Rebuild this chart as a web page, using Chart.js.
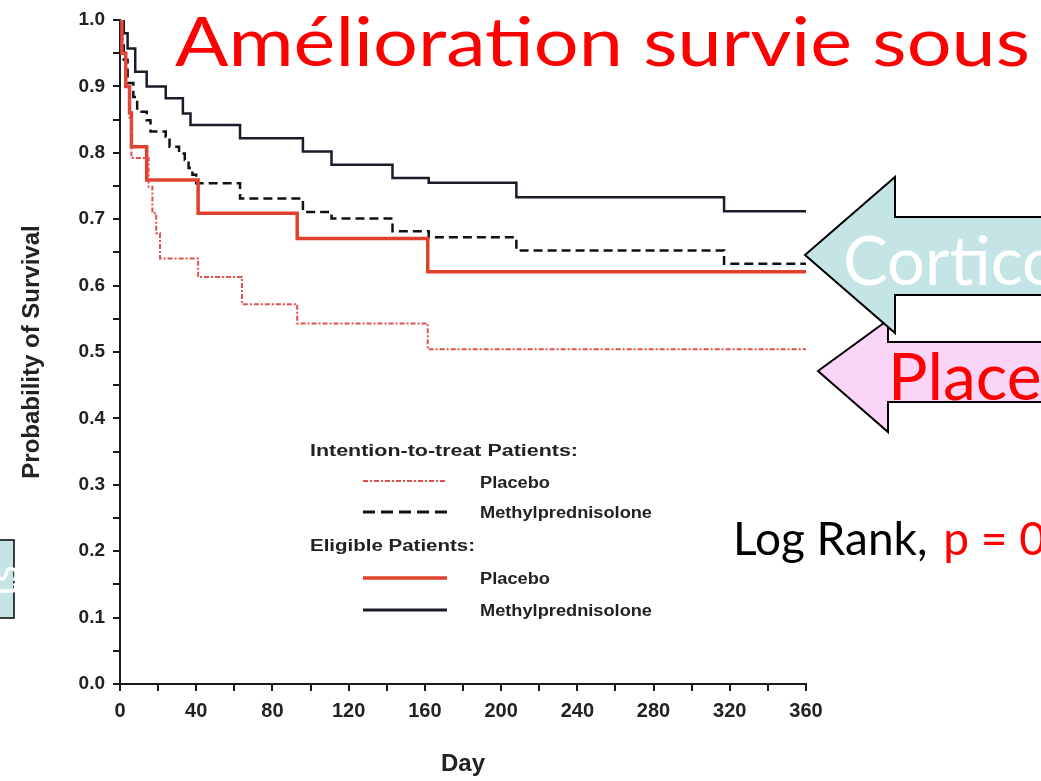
<!DOCTYPE html>
<html>
<head>
<meta charset="utf-8">
<script src="https://cdn.jsdelivr.net/npm/chart.js@4/dist/chart.umd.min.js"></script>
<style>
	body { margin: 0; background: #fff; }
	.wrap { position: relative; width: 1041px; height: 781px; overflow: hidden; }
	canvas { position: absolute; left: 0; top: 0; }
	svg { position: absolute; left: 0; top: 0; }
</style>
</head>
<body>
<div class="wrap">
	<canvas id="myChart" width="1041" height="781"></canvas>
	<svg width="1041" height="781" font-family="Lato, 'Open Sans', sans-serif">
		<text x="175" y="66" font-size="68" fill="#ff0000" textLength="855" lengthAdjust="spacingAndGlyphs">Amélioration survie sous</text>

		<polygon points="818,371 888,320 888,342 1050,342 1050,402 888,402 888,432" fill="#fbd5f7" stroke="#000" stroke-width="2" />
		<text x="888" y="400" font-size="66" fill="#ff0000">Place</text>
		<polygon points="805,255 895,177 895,217 1050,217 1050,295 895,295 895,333" fill="#c5e4e6" stroke="#000" stroke-width="2" />
		<text x="843" y="285" font-size="67" fill="#fff">Cortico</text>

		<text x="733" y="555" font-size="46" fill="#000">Log Rank, <tspan fill="#ff0000" dx="4">p  =  0</tspan></text>

		<rect x="-4" y="540" width="18" height="78" fill="#c5e4e6" stroke="#000" stroke-width="1.5" />
		<text x="0" y="579" font-size="40" fill="#fff" transform="rotate(-90 2 579)" text-anchor="middle" dominant-baseline="central">ts</text>

		<g font-family="'Liberation Sans', Arial, sans-serif" font-weight="bold" font-size="16" fill="#222" dominant-baseline="central">
			<text x="310" y="450" textLength="268" lengthAdjust="spacingAndGlyphs">Intention-to-treat  Patients:</text>
			<text x="480" y="482" textLength="70" lengthAdjust="spacingAndGlyphs">Placebo</text>
			<text x="480" y="512" textLength="172" lengthAdjust="spacingAndGlyphs">Methylprednisolone</text>
			<text x="310" y="545" textLength="165" lengthAdjust="spacingAndGlyphs">Eligible  Patients:</text>
			<text x="480" y="578" textLength="70" lengthAdjust="spacingAndGlyphs">Placebo</text>
			<text x="480" y="610" textLength="172" lengthAdjust="spacingAndGlyphs">Methylprednisolone</text>
		</g>
		<line x1="363" y1="481" x2="447" y2="481" stroke="#e05050" stroke-width="2" stroke-dasharray="5 2 2 2" />
		<line x1="363" y1="512" x2="447" y2="512" stroke="#111" stroke-width="3" stroke-dasharray="12 6" />
		<line x1="363" y1="578" x2="447" y2="578" stroke="#e0402c" stroke-width="3.5" />
		<line x1="363" y1="610" x2="447" y2="610" stroke="#1b1b2b" stroke-width="3" />
	</svg>
</div>
<script>
// Kaplan-Meier steps: day of the event and survival after it
const itt_placebo_days = [0, 1, 3, 5, 6, 15, 17, 19, 21, 41, 64, 93, 161.5, 360]
const itt_placebo_surv = [1, 0.95, 0.9, 0.85, 0.792, 0.749, 0.709, 0.679, 0.641, 0.613, 0.572, 0.543, 0.504, 0.504]

const itt_methyl_days = [0, 1, 2, 4, 7, 9, 14, 16, 24, 26, 31, 34, 36, 38, 40, 63, 96, 111, 143, 162, 208, 317, 360]
const itt_methyl_surv = [1, 0.97, 0.94, 0.905, 0.884, 0.862, 0.849, 0.832, 0.824, 0.809, 0.799, 0.789, 0.777, 0.767, 0.754, 0.731, 0.711, 0.701, 0.682, 0.673, 0.653, 0.633, 0.633]

const elig_placebo_days = [0, 1, 3, 5, 6, 14, 41, 93, 161.5, 360]
const elig_placebo_surv = [1, 0.95, 0.9, 0.86, 0.809, 0.759, 0.709, 0.671, 0.621, 0.621]

const elig_methyl_days = [0, 2, 4, 8, 14, 24, 33, 37, 63, 96, 111, 143, 162, 208, 317, 360]
const elig_methyl_surv = [1, 0.98, 0.957, 0.922, 0.9, 0.882, 0.859, 0.842, 0.822, 0.802, 0.782, 0.762, 0.755, 0.733, 0.712, 0.712]

const x_ticks = [0, 40, 80, 120, 160, 200, 240, 280, 320, 360]
const y_ticks = [0, 0.1, 0.2, 0.3, 0.4, 0.5, 0.6, 0.7, 0.8, 0.9, 1.0]

const pts = (days, surv) => days.map((d, i) => ({ x: d, y: surv[i] }))

const fam = "'Liberation Sans', Arial, sans-serif"
const axisColor = '#1a1a1a'

var ctx = document.getElementById('myChart').getContext('2d')
var myChart = new Chart(ctx, {
	type: 'line',
	data: {
		datasets: [
			{
				label: 'ITT Placebo',
				data: pts(itt_placebo_days, itt_placebo_surv),
				borderColor: '#e05050',
				borderWidth: 2,
				borderDash: [5, 2, 2, 2],
			},
			{
				label: 'Eligible Placebo',
				data: pts(elig_placebo_days, elig_placebo_surv),
				borderColor: '#e0402c',
				borderWidth: 3.5,
			},
			{
				label: 'ITT Methylprednisolone',
				data: pts(itt_methyl_days, itt_methyl_surv),
				borderColor: '#111',
				borderWidth: 2.5,
				borderDash: [9, 5],
			},
			{
				label: 'Eligible Methylprednisolone',
				data: pts(elig_methyl_days, elig_methyl_surv),
				borderColor: '#1b1b2b',
				borderWidth: 2.5,
			},
		],
	},
	options: {
		responsive: false,
		animation: false,
		layout: { padding: { top: 20, right: 235, left: 0, bottom: 0 } },
		elements: {
			point: { radius: 0 },
			line: { stepped: 'before', fill: false, tension: 0 },
		},
		plugins: { legend: { display: false }, tooltip: { enabled: false } },
		scales: {
			x: {
				type: 'linear',
				min: 0,
				max: 360,
				afterFit: scale => { scale.height = 97 },
				ticks: {
					stepSize: 20,
					autoSkip: false,
					maxRotation: 0,
					padding: 8,
					color: '#222',
					font: { family: fam, weight: 'bold', size: 20 },
					callback: v => (x_ticks.includes(v) ? v : ''),
				},
				grid: { drawOnChartArea: false, drawTicks: true, tickLength: 7, color: axisColor, lineWidth: 2 },
				border: { display: true, color: axisColor, width: 2 },
				title: {
					display: true,
					text: 'Day',
					color: '#222',
					font: { family: fam, weight: 'bold', size: 24 },
					padding: { top: 0, bottom: 2 },
				},
			},
			y: {
				min: 0,
				max: 1,
				afterFit: scale => { scale.width = 120 },
				ticks: {
					stepSize: 0.05,
					autoSkip: false,
					padding: 8,
					color: '#222',
					font: { family: fam, weight: 'bold', size: 19 },
					callback: v => {
						const hit = y_ticks.find(t => Math.abs(t - v) < 1e-6)
						return hit === undefined ? '' : hit.toFixed(1)
					},
				},
				grid: { drawOnChartArea: false, drawTicks: true, tickLength: 7, color: axisColor, lineWidth: 2 },
				border: { display: true, color: axisColor, width: 2 },
				title: {
					display: true,
					text: 'Probability of Survival',
					color: '#222',
					font: { family: fam, weight: 'bold', size: 24 },
					padding: { top: 18, bottom: 0 },
				},
			},
		},
	},
})
</script>
</body>
</html>
